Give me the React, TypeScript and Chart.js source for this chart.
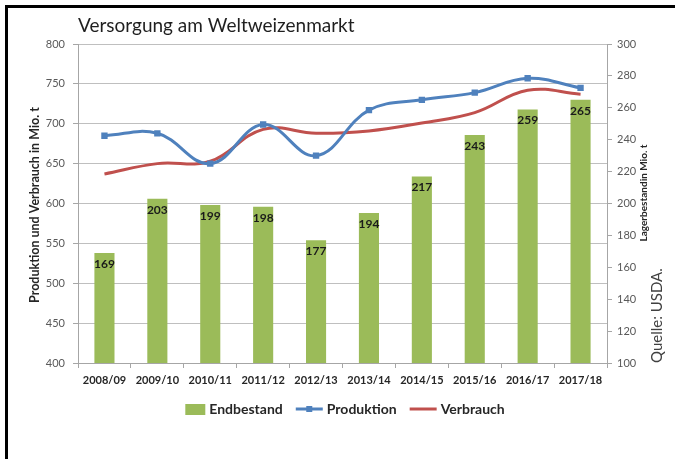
import React, { useEffect, useRef } from 'react';
import { Chart, registerables } from 'chart.js';

Chart.register(...registerables);

const categories = ['2008/09', '2009/10', '2010/11', '2011/12', '2012/13', '2013/14', '2014/15', '2015/16', '2016/17', '2017/18'];
const endbestand = [169, 203, 199, 198, 177, 194, 217, 243, 259, 265];
const produktion = [685, 688, 650, 699, 660, 717, 730, 739, 757, 745];
const verbrauch = [637, 650, 653, 693, 688, 691, 701, 714, 742, 737];

const leftMin = 400;
const leftMax = 800;
const leftStep = 50;
const rightMin = 100;
const rightMax = 300;
const rightStep = 20;

const titleText = 'Versorgung am Weltweizenmarkt';
const leftTitle = 'Produktion und Verbrauch in Mio. t';
const rightTitle = 'Lagerbestandin Mio. t';
const sourceText = 'Quelle: USDA.';

const GREEN = '#9BBB59';
const BLUE = '#4F81BD';
const RED = '#C0504D';
const FONT = 'Lato, "Open Sans", "DejaVu Sans", sans-serif';
const GRID = '#BFBFBF';
const AXIS = '#A6A6A6';

const decorPlugin = {
  id: 'decor',
  afterDatasetsDraw(chart: any) {
    const ctx = chart.ctx;
    const meta = chart.getDatasetMeta(2);
    ctx.save();
    ctx.font = `bold 12px ${FONT}`;
    ctx.fillStyle = '#1A1A1A';
    ctx.textAlign = 'center';
    ctx.textBaseline = 'middle';
    meta.data.forEach((bar: any, i: number) => {
      ctx.fillText(String(endbestand[i]), bar.x, bar.y + 11);
    });
    ctx.restore();
  },
  afterDraw(chart: any) {
    const ctx = chart.ctx;
    const area = chart.chartArea;
    ctx.save();
    // frame
    ctx.fillStyle = '#000';
    ctx.fillRect(5, 5, 3, 459);
    ctx.fillRect(5, 5, 675, 3);

    // title
    ctx.fillStyle = '#1F1F1F';
    ctx.textAlign = 'left';
    ctx.textBaseline = 'alphabetic';
    ctx.font = `19px ${FONT}`;
    ctx.fillText(titleText, 78, 32);

    // left axis title
    ctx.save();
    ctx.translate(35, 205);
    ctx.rotate(-Math.PI / 2);
    ctx.font = `bold 12.5px ${FONT}`;
    ctx.textAlign = 'center';
    ctx.textBaseline = 'middle';
    ctx.fillStyle = '#262626';
    ctx.fillText(leftTitle, 0, 0);
    ctx.restore();

    // right axis title
    ctx.save();
    ctx.translate(644, 193);
    ctx.rotate(-Math.PI / 2);
    ctx.font = `bold 10px ${FONT}`;
    ctx.textAlign = 'center';
    ctx.textBaseline = 'middle';
    ctx.fillStyle = '#262626';
    ctx.fillText(rightTitle, 0, 0);
    ctx.restore();

    // source
    ctx.save();
    ctx.translate(657, area.bottom);
    ctx.rotate(-Math.PI / 2);
    ctx.font = `15px ${FONT}`;
    ctx.textAlign = 'left';
    ctx.textBaseline = 'middle';
    ctx.fillStyle = '#404040';
    ctx.fillText(sourceText, 0, 0);
    ctx.restore();

    // legend
    const items = [
      { label: 'Endbestand', kind: 'box', color: GREEN },
      { label: 'Produktion', kind: 'marker', color: BLUE },
      { label: 'Verbrauch', kind: 'line', color: RED },
    ];
    ctx.font = `bold 14px ${FONT}`;
    const symW = (k: string) => (k === 'box' ? 20 : 27);
    const gapSym = 4;
    const gapItem = 13;
    let total = 0;
    items.forEach((it, i) => {
      total += symW(it.kind) + gapSym + ctx.measureText(it.label).width + (i < items.length - 1 ? gapItem : 0);
    });
    let x = 345 - total / 2;
    const ly = 409;
    items.forEach((it) => {
      const w = symW(it.kind);
      ctx.fillStyle = it.color;
      if (it.kind === 'box') {
        ctx.fillRect(x, ly - 5, w, 11);
      } else {
        ctx.strokeStyle = it.color;
        ctx.lineWidth = 3;
        ctx.beginPath();
        ctx.moveTo(x, ly);
        ctx.lineTo(x + w, ly);
        ctx.stroke();
        if (it.kind === 'marker') {
          ctx.fillRect(x + w / 2 - 3, ly - 3, 6, 6);
        }
      }
      x += w + gapSym;
      ctx.fillStyle = '#262626';
      ctx.textAlign = 'left';
      ctx.textBaseline = 'middle';
      ctx.fillText(it.label, x, ly);
      x += ctx.measureText(it.label).width + gapItem;
    });
    ctx.restore();
  },
};

export default function App() {
  const canvasRef = useRef<HTMLCanvasElement | null>(null);

  useEffect(() => {
    if (!canvasRef.current) return;
    const chart = new Chart(canvasRef.current, {
      type: 'bar',
      data: {
        labels: categories,
        datasets: [
          {
            type: 'line',
            label: 'Produktion',
            data: produktion,
            yAxisID: 'y',
            borderColor: BLUE,
            backgroundColor: BLUE,
            borderWidth: 3,
            pointStyle: 'rect',
            pointRadius: 4.5,
            pointBorderWidth: 0,
            pointBackgroundColor: BLUE,
            tension: 0.4,
            order: 0,
          } as any,
          {
            type: 'line',
            label: 'Verbrauch',
            data: verbrauch,
            yAxisID: 'y',
            borderColor: RED,
            backgroundColor: RED,
            borderWidth: 3,
            pointRadius: 0,
            tension: 0.4,
            order: 1,
          } as any,
          {
            type: 'bar',
            label: 'Endbestand',
            data: endbestand,
            yAxisID: 'y1',
            backgroundColor: GREEN,
            barPercentage: 0.38,
            categoryPercentage: 1,
            order: 2,
          } as any,
        ],
      },
      options: {
        responsive: false,
        animation: false,
        layout: { padding: { top: 44, left: 0, right: 0, bottom: 0 } },
        plugins: {
          legend: { display: false },
          title: { display: false },
          tooltip: { enabled: false },
        },
        scales: {
          x: {
            grid: { offset: true, drawOnChartArea: false, drawTicks: true, tickLength: 5, color: AXIS },
            border: { color: AXIS },
            ticks: {
              font: { family: FONT, size: 11, weight: 'bold' },
              color: '#262626',
              padding: 6,
              maxRotation: 0,
              autoSkip: false,
            },
            afterFit: (s: any) => { s.height = 96; },
          },
          y: {
            position: 'left',
            min: leftMin,
            max: leftMax,
            ticks: {
              stepSize: leftStep,
              font: { family: FONT, size: 11 },
              color: '#595959',
              padding: 8,
            },
            grid: { color: GRID, tickLength: 5, tickColor: AXIS },
            border: { color: AXIS },
            afterFit: (s: any) => { s.width = 78; },
          },
          y1: {
            position: 'right',
            min: rightMin,
            max: rightMax,
            ticks: {
              stepSize: rightStep,
              font: { family: FONT, size: 11 },
              color: '#595959',
              padding: 5,
            },
            grid: { drawOnChartArea: false, tickLength: 5, color: AXIS },
            border: { color: AXIS },
            afterFit: (s: any) => { s.width = 68; },
          },
        },
      } as any,
      plugins: [decorPlugin],
    });
    return () => chart.destroy();
  }, []);

  return (
    <div style={{ position: 'absolute', left: 0, top: 0, width: 675, height: 459, background: '#fff' }}>
      <canvas ref={canvasRef} width={675} height={459} style={{ display: 'block' }} />
    </div>
  );
}
